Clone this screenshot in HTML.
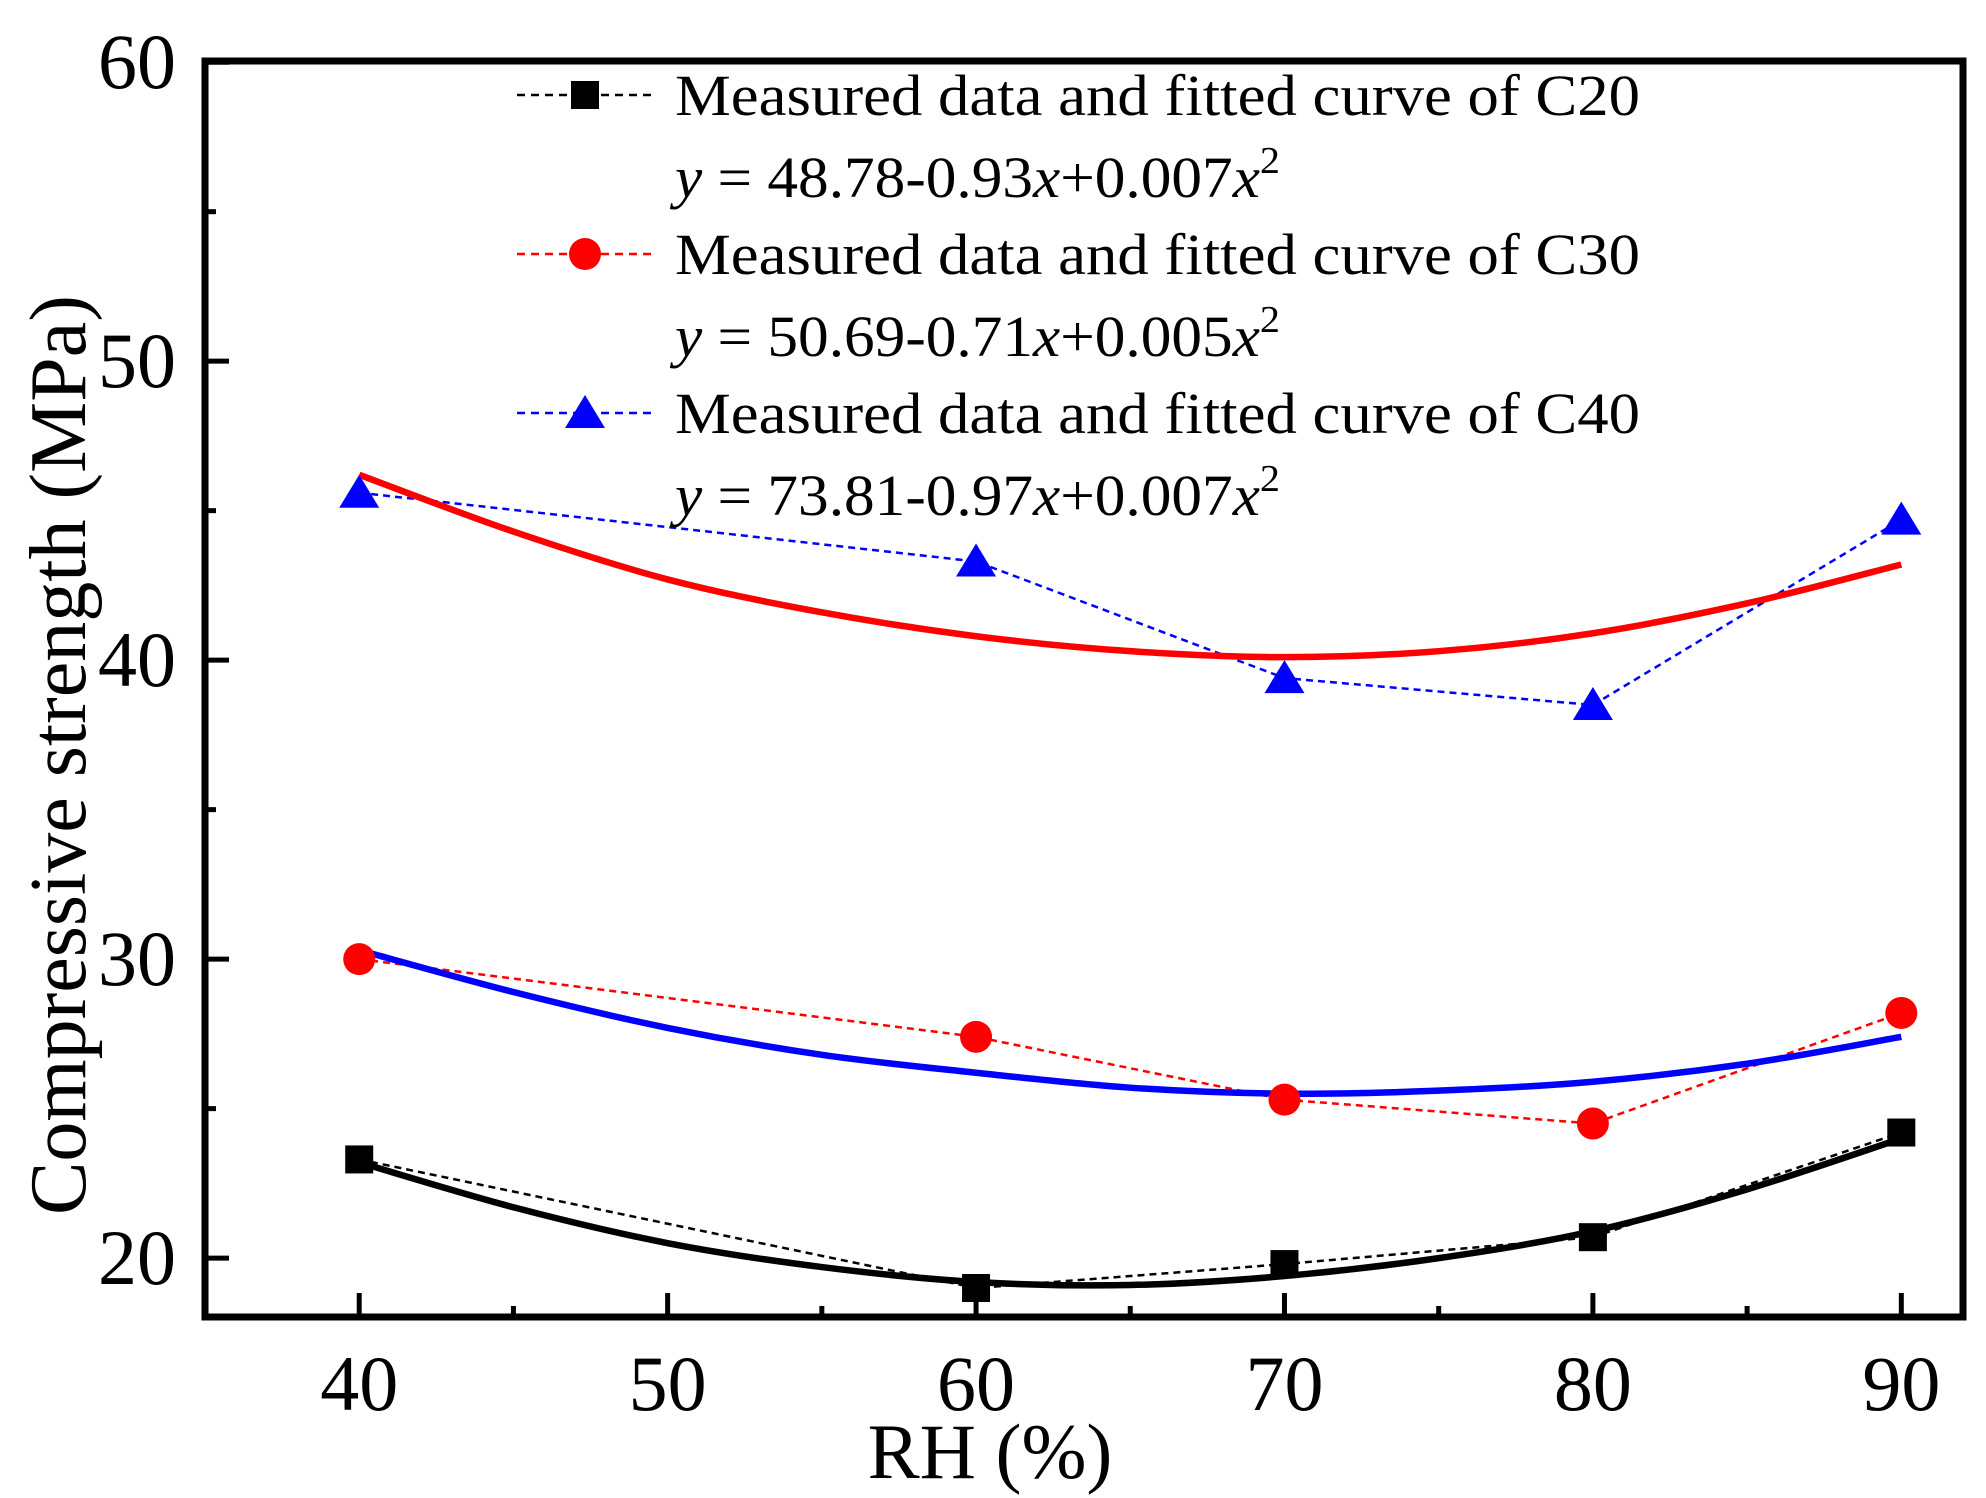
<!DOCTYPE html>
<html><head><meta charset="utf-8"><style>
html,body{margin:0;padding:0;background:#fff;}
svg{display:block;font-family:"Liberation Serif",serif;}
</style></head><body>
<svg id="chart" width="1986" height="1498" viewBox="0 0 1986 1498" xmlns="http://www.w3.org/2000/svg">
<g id="plot"></g>
</svg>
<script>
const xValues = [40, 60, 70, 80, 90];
const c20Values = [23.3, 19.0, 19.8, 20.7, 24.2];
const c30Values = [30.0, 27.4, 25.3, 24.5, 28.2];
const c40Values = [45.6, 43.3, 39.4, 38.5, 44.7];
const fitX = [40, 45, 50, 55, 60, 65, 70, 75, 80, 85, 90];
const fitBlack = [23.2, 21.7, 20.5, 19.7, 19.2, 19.1, 19.4, 20.0, 20.9, 22.3, 24.0];
const fitRed = [46.2, 44.3, 42.7, 41.6, 40.8, 40.3, 40.1, 40.3, 40.9, 41.9, 43.2];
const fitBlue = [30.3, 28.9, 27.7, 26.8, 26.2, 25.7, 25.5, 25.6, 25.9, 26.5, 27.4];
const xTicks = [40, 50, 60, 70, 80, 90];
const yTicks = [20, 30, 40, 50, 60];
const legendLabels = ["Measured data and fitted curve of C20", "Measured data and fitted curve of C30", "Measured data and fitted curve of C40"];

const NS = "http://www.w3.org/2000/svg";
const L = 205, R = 1963, T = 61, B = 1317;
const xMin = 35, xMax = 92.0, yMin = 18.03, yMax = 60.04;
const X = v => L + (v - xMin) / (xMax - xMin) * (R - L);
const Y = v => B - (v - yMin) / (yMax - yMin) * (B - T);
const g = document.getElementById('plot');
function mk(tag, attrs, parent) {
  const e = document.createElementNS(NS, tag);
  for (const k in attrs) e.setAttribute(k, attrs[k]);
  (parent || g).appendChild(e);
  return e;
}
for (let v = 20; v <= 60; v += 5) {
  const major = v % 10 === 0;
  const t = mk('line', {x1: L, x2: L + (major ? 24 : 11), y1: Y(v), y2: Y(v), stroke: '#000', 'stroke-width': 5});
  
  
}
for (let v = 40; v <= 90; v += 5) {
  const major = v % 10 === 0;
  const t = mk('line', {x1: X(v), x2: X(v), y1: B, y2: B - (major ? 24 : 11), stroke: '#000', 'stroke-width': 5});
  
  
}
yTicks.forEach(v => {
  const t = mk('text', {x: 176, y: Y(v) + 26, 'text-anchor': 'end', 'font-size': 78});
  t.textContent = v;
  
  
});
xTicks.forEach(v => {
  const t = mk('text', {x: X(v), y: 1410, 'text-anchor': 'middle', 'font-size': 78});
  t.textContent = v;
  
  
});
function smooth(xs, ys) {
  const p = xs.map((x, i) => [X(x), Y(ys[i])]);
  let d = `M${p[0][0]},${p[0][1]}`;
  for (let i = 0; i < p.length - 1; i++) {
    const p0 = p[Math.max(0, i - 1)], p1 = p[i], p2 = p[i + 1], p3 = p[Math.min(p.length - 1, i + 2)];
    d += ` C${p1[0] + (p2[0] - p0[0]) / 6},${p1[1] + (p2[1] - p0[1]) / 6} ${p2[0] - (p3[0] - p1[0]) / 6},${p2[1] - (p3[1] - p1[1]) / 6} ${p2[0]},${p2[1]}`;
  }
  return d;
}
function polyline(xs, ys) { return xs.map((x, i) => X(x) + ',' + Y(ys[i])).join(' '); }
const dashSeries = [[c20Values, '#000', 'c20-measured-line'], [c30Values, '#ff0000', 'c30-measured-line'], [c40Values, '#0000ff', 'c40-measured-line']];
dashSeries.forEach(s => {
  const e = mk('polyline', {points: polyline(xValues, s[0]), fill: 'none', stroke: s[1], 'stroke-width': 2.5, 'stroke-dasharray': '7,5'});
  
  
});
const fits = [[fitBlack, '#000', 'c20-fitted-curve'], [fitBlue, '#0000ff', 'c30-fitted-curve'], [fitRed, '#ff0000', 'c40-fitted-curve']];
fits.forEach(s => {
  const e = mk('path', {d: smooth(fitX, s[0]), fill: 'none', stroke: s[1], 'stroke-width': 6.5});
  
  
});
function square(cx, cy, col) { return mk('rect', {x: cx - 14, y: cy - 14, width: 28, height: 28, fill: col}); }
function circle(cx, cy, col) { return mk('ellipse', {cx: cx, cy: cy, rx: 16, ry: 16, fill: col}); }
function tri(cx, cy, col) { return mk('polygon', {points: `${cx},${cy - 18} ${cx + 20},${cy + 15} ${cx - 20},${cy + 15}`, fill: col}); }
xValues.forEach((x, i) => {
  const a = square(X(x), Y(c20Values[i]), '#000');
  
  
  const b = circle(X(x), Y(c30Values[i]), '#ff0000');
  
  
  const c = tri(X(x), Y(c40Values[i]), '#0000ff');
  
  
});
const fr = mk('rect', {x: L, y: T, width: R - L, height: B - T, fill: 'none', stroke: '#000', 'stroke-width': 7});


const legCols = ['#000', '#ff0000', '#0000ff'];
const legY = [95, 254, 413];
const eqs = [["48.78-0.93", "+0.007"], ["50.69-0.71", "+0.005"], ["73.81-0.97", "+0.007"]];
legendLabels.forEach((lab, i) => {
  const ln = mk('line', {x1: 517, x2: 652, y1: legY[i], y2: legY[i], stroke: legCols[i], 'stroke-width': 2.5, 'stroke-dasharray': '8,6'});
  
  
  let m;
  if (i === 0) m = square(585, legY[i], '#000');
  else if (i === 1) m = circle(585, legY[i], '#ff0000');
  else m = tri(585, legY[i], '#0000ff');
  
  
  const t = mk('text', {x: 675, y: legY[i] + 20, 'font-size': 58, textLength: 965, lengthAdjust: 'spacingAndGlyphs'});
  t.textContent = lab;
  
  
  const eq = mk('text', {x: 675, y: legY[i] + 102, 'font-size': 58, textLength: 605, lengthAdjust: 'spacingAndGlyphs'});
  eq.innerHTML = `<tspan font-style="italic">y</tspan> = ${eqs[i][0]}<tspan font-style="italic">x</tspan>${eqs[i][1]}<tspan font-style="italic">x</tspan><tspan dy="-24" font-size="38">2</tspan>`;
  
  
});
const xt = mk('text', {x: 990, y: 1478, 'text-anchor': 'middle', 'font-size': 78});
xt.textContent = 'RH (%)';


const yt = mk('text', {x: 0, y: 0, 'text-anchor': 'middle', 'font-size': 80, transform: 'translate(85,755) rotate(-90)'});
yt.textContent = 'Compressive strength (MPa)';


</script>
</body></html>
